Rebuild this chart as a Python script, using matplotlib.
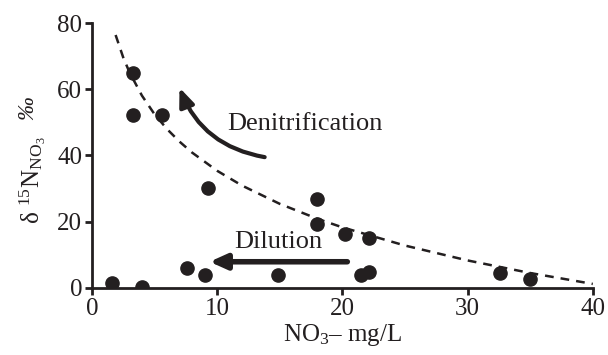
import numpy as np
import matplotlib.pyplot as plt
from matplotlib.patches import FancyArrowPatch

plt.rcParams["font.family"] = ["Liberation Serif", "DejaVu Serif"]
plt.rcParams["mathtext.fontset"] = "custom"
plt.rcParams["mathtext.rm"] = "Liberation Serif"
plt.rcParams["mathtext.it"] = "Liberation Serif:italic"

ink = "#231f20"

# measured samples
no3 = [3.3, 3.3, 5.6, 9.3, 18.0, 18.0, 20.2, 22.1, 32.6, 35.0,
       1.6, 4.0, 7.6, 9.0, 14.9, 21.5, 22.1]
d15n = [64.9, 52.2, 52.2, 30.2, 26.9, 19.3, 16.3, 15.1, 4.5, 2.7,
        1.5, 0.3, 6.0, 3.9, 3.9, 3.9, 4.8]

# dashed trend
trend_x = [1.9, 2.5, 3, 4, 5, 6, 7, 8, 10, 12, 15, 18, 20, 25, 30, 35, 40]
trend_y = [76.4, 69.7, 65.2, 58.1, 52.5, 48.0, 44.2, 40.9, 35.4, 30.9, 25.4, 20.9, 18.3, 12.8, 8.3, 4.5, 1.2]

fig = plt.figure(figsize=(6.08, 3.55), dpi=100)
ax = fig.add_axes([0.151, 0.189, 0.824, 0.746])

ax.plot(trend_x, trend_y, linestyle=(0, (3.5, 2.8)), color=ink, lw=1.8)
ax.plot(no3, d15n, "o", color=ink, markersize=9.5, linestyle="none")

# denitrification arrow (curved)
arr = FancyArrowPatch((13.8, 39.5), (7.0, 60.5), connectionstyle="arc3,rad=-0.28",
                      arrowstyle="-|>,head_length=11,head_width=4.5", color=ink, lw=3,
                      shrinkA=0, shrinkB=0)
ax.add_patch(arr)
ax.text(17.0, 49.6, "Denitrification", fontsize=19, color=ink, ha="center", va="center")

# dilution arrow
ax.annotate("", xy=(9.4, 7.9), xytext=(20.4, 7.9),
            arrowprops=dict(arrowstyle="-|>,head_length=1.0,head_width=0.45", color=ink,
                            lw=4, shrinkA=0, shrinkB=0))
ax.text(14.85, 13.8, "Dilution", fontsize=19, color=ink, ha="center", va="center")

ax.set_xlim(0, 40)
ax.set_ylim(0, 80)
ax.set_xticks([0, 10, 20, 30, 40])
ax.set_yticks([0, 20, 40, 60, 80])
for s in ["top", "right"]:
    ax.spines[s].set_visible(False)
for s in ["left", "bottom"]:
    ax.spines[s].set_linewidth(2)
    ax.spines[s].set_color(ink)
ax.tick_params(width=2, length=5, labelsize=18, colors=ink, pad=2)

ax.set_xlabel(r"NO$_3$– mg/L", fontsize=18, color=ink, labelpad=2)
ax.set_ylabel(r"δ $^{15}$N$_{\mathrm{NO}_3}$", fontsize=18, color=ink, labelpad=4)
ax.yaxis.set_label_coords(-0.088, 0.405)
fig.text(28 / 608, 1 - 108 / 355, "‰", fontsize=17, style="italic", color=ink,
         rotation=90, ha="center", va="center")

fig.savefig("out.png", dpi=100)
